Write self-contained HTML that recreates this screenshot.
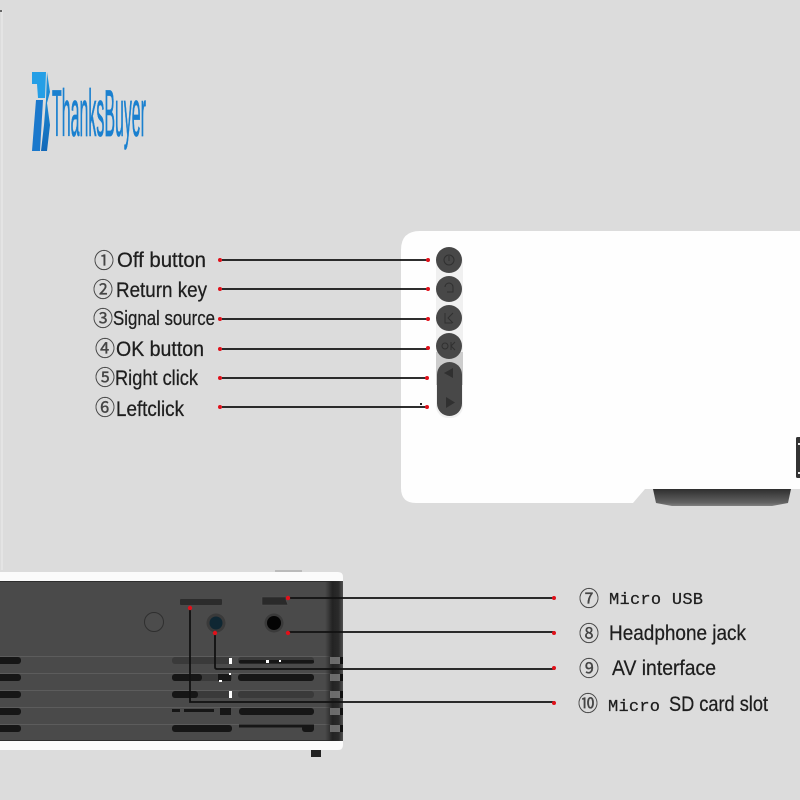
<!DOCTYPE html>
<html><head><meta charset="utf-8"><style>
html,body{margin:0;padding:0;background:#dcdcdc}
svg{display:block}
text{font-family:"Liberation Sans","Noto Sans CJK SC",sans-serif;fill:#1e1e1e;stroke:#1e1e1e;stroke-width:.25}
.m{font-family:"Liberation Mono",monospace}
.n{font-family:"Noto Sans CJK SC",sans-serif;fill:#444;stroke:#444;stroke-width:.3}
</style></head><body>
<svg width="800" height="800" viewBox="0 0 800 800" xmlns="http://www.w3.org/2000/svg">
<defs>
<linearGradient id="lg" x1="0" y1="0" x2="0" y2="1"><stop offset="0" stop-color="#2298de"/><stop offset="1" stop-color="#1268b8"/></linearGradient>
<linearGradient id="sh" x1="0" y1="0" x2="1" y2="0"><stop offset="0" stop-color="#2a2a2a" stop-opacity="0"/><stop offset="0.4" stop-color="#232323"/><stop offset="0.75" stop-color="#2a2a2a"/><stop offset="1" stop-color="#505050"/></linearGradient>
<linearGradient id="ln" x1="0" y1="0" x2="0" y2="1"><stop offset="0" stop-color="#2e2e2e"/><stop offset="0.8" stop-color="#626262"/><stop offset="1" stop-color="#808080"/></linearGradient>
</defs>
<rect width="800" height="800" fill="#dcdcdc"/>
<rect x="1" y="10" width="2" height="560" fill="#e4e4e4"/>
<rect x="0" y="10" width="2" height="2" fill="#666"/>

<!-- logo -->
<path d="M32 72H46L45 98H38L37 84H32Z" fill="#259fe6"/>
<path d="M36 100L43 100L40 151H32L34 125Z" fill="#1a78cc"/>
<path d="M47 72L50 92L47 103L50 125L47 151H41L44 125L46 100Z" fill="url(#lg)"/>
<text x="52" y="136" font-size="66" textLength="94" lengthAdjust="spacingAndGlyphs" style="fill:#1a80cf;stroke:#1a80cf;stroke-width:.8">ThanksBuyer</text>

<!-- top projector -->
<path d="M653 489H791L788 503L772 506H672L656 503Z" fill="url(#ln)"/>
<path d="M800 231H420Q401 231 401 250V488Q401 503 416 503H633L645 489H800Z" fill="#fefefe"/>
<rect x="796" y="437" width="5" height="41" rx="1.5" fill="#333"/>
<rect x="798" y="443" width="2" height="2" fill="#eee"/><rect x="798" y="472" width="2" height="2" fill="#eee"/>
<rect x="436" y="250" width="27" height="168" rx="12" fill="#f0f0f0"/>
<path d="M436 352H463V385H436Z" fill="#cdcdcd"/>
<circle cx="449" cy="260" r="13" fill="#484848"/>
<circle cx="449" cy="289" r="13" fill="#484848"/>
<circle cx="449" cy="318" r="13" fill="#484848"/>
<circle cx="449" cy="346" r="13" fill="#484848"/>
<rect x="437" y="362" width="25" height="54" rx="12.5" fill="#484848"/>
<g fill="none" stroke="#303030" stroke-width="1">
<circle cx="449" cy="260" r="5"/><path d="M449 256V261"/>
<path d="M445 287A4 4 0 0 1 453 287V292H447"/>
<path d="M445 313V323H452M453 313L448 318L453 323"/>
<circle cx="445" cy="346" r="3"/><path d="M451 342V350M455 342L451 346L455 350"/>
</g>
<path d="M453 368V378L444 373Z" fill="#303030"/>
<path d="M446 397V408L455 402.5Z" fill="#303030"/>
<rect x="420" y="403" width="2" height="2" fill="#222"/>

<!-- side projector -->
<path d="M0 572H338Q343 572 343 577V745Q343 750 338 750H0Z" fill="#fbfbfb"/>
<rect x="0" y="581" width="343" height="160" fill="#4a4a4a"/>
<rect x="0" y="581" width="343" height="1" fill="#2e2e2e"/>
<rect x="0" y="740" width="343" height="1" fill="#2e2e2e"/>
<rect x="275" y="570" width="27" height="2" fill="#bbb"/>
<!-- vents -->
<g fill="#5c5c5c"><rect x="0" y="656" width="343" height="1"/><rect x="0" y="673" width="343" height="1"/><rect x="0" y="690" width="343" height="1"/><rect x="0" y="707" width="343" height="1"/><rect x="0" y="724" width="343" height="1"/></g>
<g fill="#3a3a3a">
<rect x="172" y="657" width="60" height="7" rx="3"/><rect x="172" y="674" width="60" height="7" rx="3"/><rect x="172" y="691" width="60" height="7" rx="3"/><rect x="238" y="691" width="76" height="7" rx="3"/><rect x="238" y="657" width="76" height="7" rx="3"/>
</g>
<g fill="#161616">
<rect x="-6" y="657" width="27" height="7" rx="3"/><rect x="-6" y="674" width="27" height="7" rx="3"/><rect x="-6" y="691" width="27" height="7" rx="3"/><rect x="-6" y="708" width="27" height="7" rx="3"/><rect x="-6" y="725" width="27" height="7" rx="3"/>
<rect x="239" y="660" width="75" height="3.5" rx="1.5"/>
<rect x="172" y="674" width="30" height="7" rx="3"/><rect x="238" y="674" width="76" height="7" rx="3"/><rect x="218" y="674" width="13" height="7"/>
<rect x="172" y="691" width="26" height="7" rx="3"/>
<rect x="172" y="709" width="8" height="3"/><rect x="184" y="709" width="30" height="3"/><rect x="220" y="708" width="11" height="7"/><rect x="239" y="708" width="75" height="7" rx="3"/>
<rect x="172" y="725" width="60" height="7" rx="3"/><rect x="239" y="724.500" width="75" height="3"/><rect x="302" y="725" width="12" height="7" rx="3"/>
</g>
<g fill="#fff"><rect x="229" y="658" width="3" height="6"/><rect x="266" y="660" width="3" height="3"/><rect x="279" y="660" width="2" height="2"/><rect x="229" y="691" width="3" height="7"/><rect x="219" y="680" width="3" height="2"/><rect x="229" y="673" width="2" height="2"/></g>
<rect x="325" y="581" width="18" height="160" fill="url(#sh)"/>
<g fill="#8a8a8a" opacity=".7"><rect x="330" y="657" width="10" height="7"/><rect x="330" y="674" width="10" height="7"/><rect x="330" y="691" width="10" height="7"/><rect x="330" y="708" width="10" height="7"/><rect x="330" y="725" width="10" height="7"/></g>
<g fill="#111"><rect x="340" y="657" width="3" height="7"/><rect x="340" y="674" width="3" height="7"/><rect x="340" y="691" width="3" height="7"/><rect x="340" y="708" width="3" height="7"/><rect x="340" y="725" width="3" height="7"/></g>
<rect x="311" y="750" width="10" height="7" fill="#222"/>
<!-- ports -->
<circle cx="154" cy="622" r="9.5" fill="#4c4c4c" stroke="#2f2f2f"/>
<rect x="180" y="599" width="42" height="6" rx="1" fill="#2c2c2c"/>
<path d="M262 597H286V600L288 605H262Z" fill="#2a2a2a" stroke="#555" stroke-width=".5"/>
<circle cx="216" cy="623" r="9.5" fill="#3a3a3a"/><circle cx="216" cy="623" r="6.5" fill="#0f2733"/>
<circle cx="274" cy="623" r="9.5" fill="#3a3a3a"/><circle cx="274" cy="623" r="7" fill="#040404"/>

<!-- connectors -->
<g stroke="#111" stroke-width="1.8" fill="none">
<path d="M222 260H428M222 289H428M222 319H428M222 349H428M222 378H428M222 407H428"/>
<path d="M288 598H555M288 632H555"/>
<path d="M215 634V667Q215 669 217 669H555"/>
<path d="M190 608V702H555"/>
</g>
<g fill="#e0101a">
<circle cx="220" cy="260" r="2"/><circle cx="220" cy="289" r="2"/><circle cx="220" cy="319" r="2"/><circle cx="220" cy="349" r="2"/><circle cx="220" cy="378" r="2"/><circle cx="220" cy="407" r="2"/>
<circle cx="428" cy="260" r="2"/><circle cx="428" cy="289" r="2"/><circle cx="428" cy="319" r="2"/><circle cx="428" cy="348" r="2"/><circle cx="427" cy="378" r="2"/><circle cx="427" cy="407" r="2"/>
<circle cx="288" cy="598" r="2.2"/><circle cx="288" cy="633" r="2.2"/><circle cx="215" cy="633" r="2.2"/><circle cx="190" cy="608" r="2.2"/>
<circle cx="554" cy="598" r="2"/><circle cx="554" cy="633" r="2"/><circle cx="554" cy="668" r="2"/><circle cx="554" cy="703" r="2"/>
</g>

<!-- left labels -->
<g font-size="21">
<text class="n" x="94" y="268" textLength="20" lengthAdjust="spacingAndGlyphs">①</text>
<text class="n" x="93" y="297" textLength="20" lengthAdjust="spacingAndGlyphs">②</text>
<text class="n" x="93" y="326" textLength="20" lengthAdjust="spacingAndGlyphs">③</text>
<text class="n" x="95" y="356" textLength="20" lengthAdjust="spacingAndGlyphs">④</text>
<text class="n" x="95" y="385" textLength="20" lengthAdjust="spacingAndGlyphs">⑤</text>
<text class="n" x="95" y="415" textLength="20" lengthAdjust="spacingAndGlyphs">⑥</text>
</g>
<g font-size="21">
<text x="117" y="267" textLength="89" lengthAdjust="spacingAndGlyphs">Off button</text>
<text x="116" y="297" textLength="91" lengthAdjust="spacingAndGlyphs">Return key</text>
<text x="113" y="325" font-size="20" textLength="102" lengthAdjust="spacingAndGlyphs">Signal source</text>
<text x="116" y="356" textLength="88" lengthAdjust="spacingAndGlyphs">OK button</text>
<text x="115" y="385" textLength="83" lengthAdjust="spacingAndGlyphs">Right click</text>
<text x="116" y="416" textLength="68" lengthAdjust="spacingAndGlyphs">Leftclick</text>
</g>

<!-- right labels -->
<g font-size="21">
<text class="n" x="579" y="606" textLength="20" lengthAdjust="spacingAndGlyphs">⑦</text>
<text class="n" x="579" y="641" textLength="20" lengthAdjust="spacingAndGlyphs">⑧</text>
<text class="n" x="579" y="676" textLength="20" lengthAdjust="spacingAndGlyphs">⑨</text>
<text class="n" x="578" y="711" textLength="20" lengthAdjust="spacingAndGlyphs">⑩</text>
</g>
<text class="m" x="609" y="604" font-size="17" textLength="94" lengthAdjust="spacing">Micro USB</text>
<text x="609" y="640" font-size="21" textLength="137" lengthAdjust="spacingAndGlyphs">Headphone jack</text>
<text x="612" y="675" font-size="21" textLength="104" lengthAdjust="spacingAndGlyphs">AV interface</text>
<text class="m" x="608" y="711" font-size="17" textLength="52" lengthAdjust="spacing">Micro</text>
<text x="669" y="711" font-size="21" textLength="99" lengthAdjust="spacingAndGlyphs">SD card slot</text>
</svg>
</body></html>
